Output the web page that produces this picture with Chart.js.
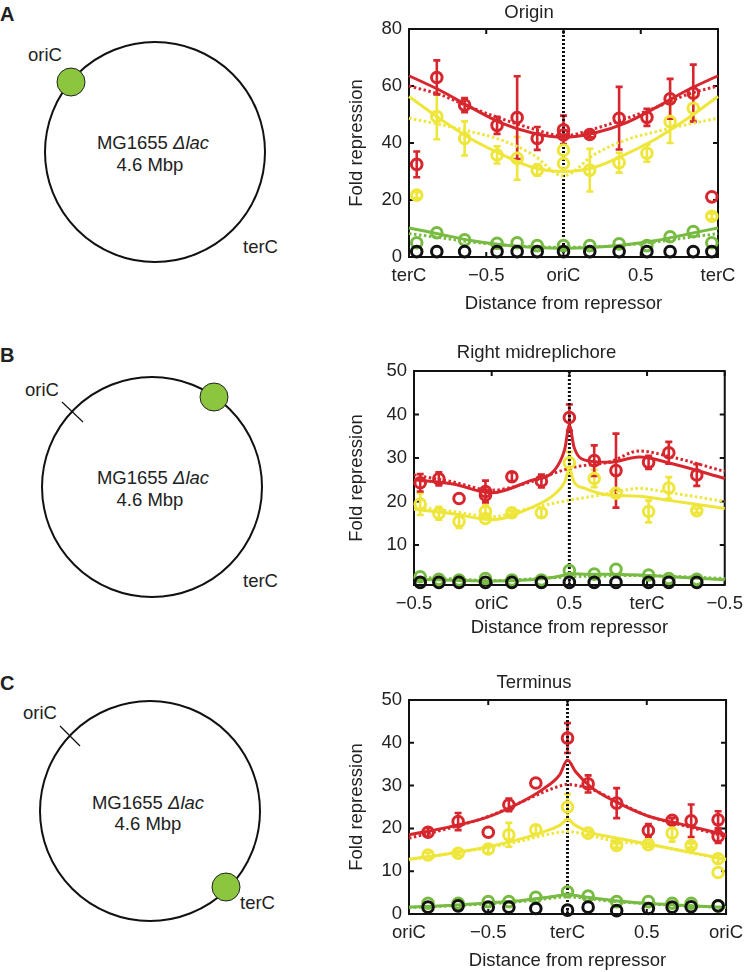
<!DOCTYPE html>
<html>
<head>
<meta charset="utf-8">
<script src="https://cdn.jsdelivr.net/npm/chart.js@4.4.1/dist/chart.umd.min.js"></script>
<style>
body { margin: 0; background: #fff; }
#page { position: relative; width: 751px; height: 972px; overflow: hidden; }
canvas { position: absolute; }
svg { position: absolute; left: 0; top: 0; }
svg text { font-family: 'Liberation Sans', Arial, sans-serif; font-size: 18.5px; fill: #222; }
</style>
</head>
<body>
<div id="page">
<svg width="340" height="972">
  <!-- A -->
  <text x="0" y="21" style="font-weight:bold;font-size:20px">A</text>
  <circle cx="155" cy="152" r="110" fill="none" stroke="#111" stroke-width="2"/>
  <circle cx="71" cy="82" r="14" fill="#8cc63f" stroke="#222" stroke-width="1"/>
  <text x="28" y="61">oriC</text>
  <text x="243" y="253">terC</text>
  <text x="153" y="149" text-anchor="middle">MG1655 <tspan font-style="italic">Δlac</tspan></text>
  <text x="150" y="171" text-anchor="middle">4.6 Mbp</text>
  <!-- B -->
  <text x="0" y="362" style="font-weight:bold;font-size:20px">B</text>
  <circle cx="152" cy="487" r="110" fill="none" stroke="#111" stroke-width="2"/>
  <line x1="62" y1="402" x2="83" y2="422" stroke="#111" stroke-width="1.2"/>
  <circle cx="214" cy="397" r="14" fill="#8cc63f" stroke="#222" stroke-width="1"/>
  <text x="25" y="396">oriC</text>
  <text x="243" y="587">terC</text>
  <text x="153" y="484" text-anchor="middle">MG1655 <tspan font-style="italic">Δlac</tspan></text>
  <text x="150" y="506" text-anchor="middle">4.6 Mbp</text>
  <!-- C -->
  <text x="0" y="690" style="font-weight:bold;font-size:20px">C</text>
  <circle cx="150" cy="811" r="110" fill="none" stroke="#111" stroke-width="2"/>
  <line x1="60" y1="726" x2="80" y2="746" stroke="#111" stroke-width="1.2"/>
  <circle cx="226" cy="887" r="14" fill="#8cc63f" stroke="#222" stroke-width="1"/>
  <text x="23" y="719">oriC</text>
  <text x="240" y="909">terC</text>
  <text x="148" y="809" text-anchor="middle">MG1655 <tspan font-style="italic">Δlac</tspan></text>
  <text x="148" y="830" text-anchor="middle">4.6 Mbp</text>
</svg>
<canvas id="chartA" width="411" height="315" style="left:340px;top:0px"></canvas>
<canvas id="chartB" width="411" height="324" style="left:340px;top:315px"></canvas>
<canvas id="chartC" width="411" height="337" style="left:340px;top:635px"></canvas>
</div>
<script>
const RED = '#d7262e';
const YELLOW = '#eee63a';
const GREEN = '#78bb43';
const BLACK = '#111111';

// ---- A: Origin ----
const xA = [-0.95, -0.82, -0.64, -0.43, -0.30, -0.17, 0.00, 0.17, 0.36, 0.54, 0.69, 0.84, 0.96];
const redA = [32.5, 63.0, 53.3, 46.2, 48.9, 41.6, 44.6, 43.0, 48.7, 49.0, 55.5, 57.5, 21.1];
const redErrA = [4.5, 6, 2.5, 3, 14.5, 4, 5, 1, 11, 3, 7, 10, 0];
const yellowA = [21.7, 49.3, 41.6, 35.8, 34.6, 30.5, 37.5, 30.5, 33.1, 36.4, 47.5, 52.2, 14.3];
const yellowErrA = [1, 8, 6, 3, 7.5, 2, 0, 7.5, 3.5, 3, 7.5, 4, 1];
const greenA = [5.0, 8.5, 6.0, 4.8, 5.0, 4.0, 4.0, 4.0, 4.6, 4.0, 7.1, 8.9, 5.0];
const blackA = [1.9, 1.9, 1.9, 1.9, 1.9, 1.9, 1.9, 1.9, 1.9, 1.9, 1.9, 1.9, 1.9];
const xExtraA = [0.00];
const redExtraA = [42.8];
const yellowExtraA = [32.8];
const fitXA = [-1, -0.8, -0.6, -0.4, -0.2, 0, 0.2, 0.4, 0.6, 0.8, 1];
const redFitA = [63.6, 58.5, 52.5, 47, 43.5, 42, 43.5, 47, 52.5, 58.5, 63.6];
const redModelA = [60, 57, 52.5, 48.5, 45, 42.5, 45, 48.5, 52.5, 57, 60];
const yellowFitA = [56.3, 48.5, 41.5, 36, 31.5, 30, 31.5, 36, 41.5, 48.5, 56.3];
const yellowModelA = [48.7, 46.5, 44, 41, 36, 28.5, 36, 41, 44, 46.5, 48.7];
const greenFitA = [10.2, 8.0, 5.8, 4.3, 3.4, 3.0, 3.4, 4.3, 5.8, 8.0, 10.2];
const greenModelA = [8.2, 6.8, 5.3, 4.2, 3.6, 3.4, 3.6, 4.2, 5.3, 6.8, 8.2];
const xTicksA = [-1, -0.5, 0, 0.5, 1];
const xLabelsA = ['terC', '\u22120.5', 'oriC', '0.5', 'terC'];
const yTicksA = [0, 20, 40, 60, 80];

// ---- B: Right midreplichore ----
const xB = [-0.46, -0.34, -0.21, -0.04, 0.13, 0.32, 0.50, 0.66, 0.80, 1.01, 1.14, 1.32];
const redB = [24.3, 25.2, 20.7, 22.3, 25.7, 24.7, 39.3, 29.4, 27.1, 29.0, 31.2, 26.1];
const redErrB = [2, 1.5, 0, 2.5, 1, 1.5, 3, 3.5, 8.5, 1.5, 2.5, 2.5];
const yellowB = [19.4, 17.3, 15.4, 17.7, 17.4, 17.4, 28.9, 25.3, 21.9, 17.7, 23.1, 17.9];
const yellowErrB = [2.5, 1.5, 1.5, 1.5, 0.5, 1, 2.5, 2, 0.5, 2.5, 2.5, 0.5];
const greenB = [2.7, 2.1, 1.95, 2.3, 1.95, 1.95, 4.1, 3.3, 4.4, 3.1, 2.3, 2.1];
const blackB = [1.4, 1.4, 1.4, 1.4, 1.4, 1.4, 1.4, 1.4, 1.4, 1.4, 1.4, 1.4];
const xExtraB = [-0.04];
const redExtraB = [21.5];
const yellowExtraB = [16.1];
const fitXB = [-0.5, -0.25, 0, 0.25, 0.4, 0.47, 0.5, 0.53, 0.6, 0.75, 0.95, 1.15, 1.5];
const redFitB = [25, 24, 22, 24.8, 27, 32, 37.5, 32.5, 29.5, 29, 30.2, 28.8, 25.3];
const redModelB = [26.1, 24.5, 22.6, 24.5, 26.5, 27.3, 27.6, 27.9, 28.3, 29, 31.6, 30.3, 26.9];
const yellowFitB = [18.2, 17.2, 15.8, 18.5, 21.5, 24.5, 27.5, 24.5, 23, 21.5, 21.2, 20.2, 18.4];
const yellowModelB = [18.8, 17.7, 16.5, 18.5, 19.6, 20.1, 20.3, 20.5, 20.9, 21.8, 23, 22, 20];
const greenFitB = [2.1, 1.9, 1.7, 2.0, 2.6, 3.1, 3.5, 3.4, 3.3, 3.3, 3.1, 2.7, 2.0];
const greenModelB = [2.6, 2.2, 1.8, 2.2, 2.5, 2.6, 2.7, 2.7, 2.8, 2.9, 3.0, 2.8, 2.3];
const xTicksB = [-0.5, 0, 0.5, 1, 1.5];
const xLabelsB = ['\u22120.5', 'oriC', '0.5', 'terC', '\u22120.5'];
const yTicksB = [10, 20, 30, 40, 50];

// ---- C: Terminus ----
const xC = [-0.88, -0.69, -0.50, -0.37, -0.20, 0.00, 0.13, 0.31, 0.51, 0.66, 0.78, 0.95];
const redC = [19.1, 21.6, 19.1, 25.5, 30.6, 41.1, 30.4, 25.9, 19.5, 21.9, 21.8, 22.0];
const redErrC = [1, 2, 0, 1.5, 0, 3.5, 2, 3.5, 1.5, 0.5, 3.8, 2];
const yellowC = [13.8, 14.2, 15.2, 18.5, 19.7, 25.0, 18.9, 16.0, 16.2, 18.9, 16.0, 12.9];
const yellowErrC = [0.5, 0.5, 1, 2.8, 1, 3, 0.5, 0.5, 0.5, 2, 0.5, 1];
const greenC = [2.5, 2.5, 2.9, 2.9, 3.9, 5.2, 4.2, 2.9, 2.9, 2.5, 2.5, 1.9];
const blackC = [1.6, 1.9, 1.6, 1.6, 1.3, 0.9, 1.6, 0.8, 1.3, 1.6, 1.7, 1.9];
const xExtraC = [0.95];
const redExtraC = [18.1];
const yellowExtraC = [9.7];
const fitXC = [-1, -0.75, -0.5, -0.3, -0.15, -0.05, 0, 0.05, 0.15, 0.3, 0.5, 0.75, 1];
const redFitC = [18.5, 20.3, 22.7, 26.0, 29.3, 32.5, 36, 33.3, 29.6, 26.3, 23.0, 20.7, 18.5];
const redModelC = [17.7, 20, 22.8, 26, 28.5, 29.9, 30.3, 30.1, 29.2, 26.5, 23, 20.5, 18.1];
const yellowFitC = [12.8, 14.1, 15.7, 17.5, 19.2, 20.7, 22, 20.7, 19, 17.8, 16.4, 14.6, 12.8];
const yellowModelC = [12.7, 14.1, 15.5, 17.0, 18.4, 19.1, 19.3, 19.1, 18.3, 17.0, 16.3, 14.5, 12.7];
const greenFitC = [1.6, 2.0, 2.6, 3.1, 3.8, 4.3, 4.7, 4.3, 3.8, 3.1, 2.5, 2.0, 1.5];
const greenModelC = [1.5, 1.9, 2.4, 2.9, 3.5, 3.9, 4.0, 3.9, 3.5, 2.9, 2.4, 1.9, 1.5];
const xTicksC = [-1, -0.5, 0, 0.5, 1];
const xLabelsC = ['oriC', '\u22120.5', 'terC', '0.5', 'oriC'];
const yTicksC = [0, 10, 20, 30, 40, 50];

const FONT = { family: "'Liberation Sans', Arial, sans-serif", size: 18.5 };

// box with inward tick marks, like the original plots
const frame = {
  id: 'frame',
  beforeDatasetsDraw(chart) {
    const { ctx, chartArea: a, scales: { x, y } } = chart;
    ctx.save();
    ctx.strokeStyle = BLACK;
    ctx.lineWidth = 2;
    ctx.strokeRect(a.left, a.top, a.right - a.left, a.bottom - a.top);
    ctx.beginPath();
    x.ticks.forEach(t => {
      const px = x.getPixelForValue(t.value);
      ctx.moveTo(px, a.bottom); ctx.lineTo(px, a.bottom - 5);
      ctx.moveTo(px, a.top); ctx.lineTo(px, a.top + 5);
    });
    y.ticks.forEach(t => {
      const py = y.getPixelForValue(t.value);
      ctx.moveTo(a.left, py); ctx.lineTo(a.left + 5, py);
      ctx.moveTo(a.right, py); ctx.lineTo(a.right - 5, py);
    });
    ctx.stroke();
    ctx.restore();
  }
};

const errorBars = {
  id: 'errorBars',
  beforeDatasetsDraw(chart) {
    const { ctx, scales: { y } } = chart;
    chart.data.datasets.forEach((ds, i) => {
      if (!ds.errors) return;
      const meta = chart.getDatasetMeta(i);
      ctx.save();
      ctx.strokeStyle = ds.borderColor;
      ctx.lineWidth = 2.6;
      meta.data.forEach((pt, j) => {
        const e = ds.errors[j];
        if (!e) return;
        const v = ds.data[j].y;
        const top = y.getPixelForValue(v + e);
        const bot = y.getPixelForValue(v - e);
        ctx.beginPath();
        ctx.moveTo(pt.x, top); ctx.lineTo(pt.x, bot);
        ctx.moveTo(pt.x - 3.5, top); ctx.lineTo(pt.x + 3.5, top);
        ctx.moveTo(pt.x - 3.5, bot); ctx.lineTo(pt.x + 3.5, bot);
        ctx.stroke();
      });
      ctx.restore();
    });
  }
};

const pts = (xs, ys) => xs.map((x, i) => ({ x, y: ys[i] }));

function pointSet(xs, ys, errs, color) {
  return {
    data: pts(xs, ys), errors: errs, borderColor: color, backgroundColor: 'rgba(0,0,0,0)',
    pointRadius: 5.3, pointBorderWidth: 3, showLine: false, clip: false
  };
}

function curve(xs, ys, color, dotted) {
  return {
    data: pts(xs, ys), borderColor: color, borderWidth: 3, borderDash: dotted ? [2.5, 2.5] : [],
    pointRadius: 0, showLine: true, cubicInterpolationMode: 'monotone', clip: false
  };
}

function panel(id, p) {
  const datasets = [
    pointSet(p.x, p.black, null, BLACK),
    pointSet(p.x, p.green, null, GREEN),
    pointSet(p.x.concat(p.xExtra), p.yellow.concat(p.yellowExtra), p.yellowErr.concat([0]), YELLOW),
    pointSet(p.x.concat(p.xExtra), p.red.concat(p.redExtra), p.redErr.concat(p.redExtraErr || [0]), RED),
    curve(p.fitX, p.redFit, RED, false),
    curve(p.fitX, p.redModel, RED, true),
    curve(p.fitX, p.greenFit, GREEN, false),
    curve(p.fitX, p.greenModel, GREEN, true),
    curve(p.fitX, p.yellowFit, YELLOW, false),
    curve(p.fitX, p.yellowModel, YELLOW, true),
    {
      data: [{ x: p.site, y: p.yMin }, { x: p.site, y: p.yMax }],
      borderColor: BLACK, borderWidth: 3, borderDash: [2, 2], pointRadius: 0, showLine: true
    }
  ];
  return new Chart(document.getElementById(id), {
    type: 'scatter',
    data: { datasets },
    options: {
      responsive: false,
      animation: false,
      events: [],
      layout: { padding: { left: 0, right: p.padRight, top: 0, bottom: 0 } },
      plugins: {
        legend: { display: false },
        tooltip: { enabled: false },
        title: {
          display: true, text: p.title, color: '#222',
          font: { ...FONT, weight: 'normal' }, padding: p.titlePad
        }
      },
      scales: {
        x: {
          type: 'linear', min: p.xTicks[0], max: p.xTicks[p.xTicks.length - 1],
          grid: { display: false, drawTicks: false }, border: { display: false },
          afterBuildTicks: s => { s.ticks = p.xTicks.map(v => ({ value: v })); },
          afterFit: s => { s.height = p.xHeight; },
          ticks: { font: FONT, color: '#222', padding: 8, maxRotation: 0, callback: (v, i) => p.xLabels[i] },
          title: { display: true, text: 'Distance from repressor', font: FONT, color: '#222', padding: 0 }
        },
        y: {
          type: 'linear', min: p.yMin, max: p.yMax,
          grid: { display: false, drawTicks: false }, border: { display: false },
          afterBuildTicks: s => { s.ticks = p.yTicks.map(v => ({ value: v })); },
          afterFit: s => { s.width = p.yWidth; },
          ticks: { font: FONT, color: '#222', padding: 7 },
          title: { display: true, text: 'Fold repression', font: FONT, color: '#222', padding: { top: 6, bottom: 0 } }
        }
      }
    },
    plugins: [frame, errorBars]
  });
}

panel('chartA', {
  title: 'Origin', site: 0, yMin: 0, yMax: 80,
  x: xA, red: redA, redErr: redErrA, yellow: yellowA, yellowErr: yellowErrA, green: greenA, black: blackA,
  xExtra: xExtraA, redExtra: redExtraA, yellowExtra: yellowExtraA,
  fitX: fitXA, redFit: redFitA, redModel: redModelA, yellowFit: yellowFitA, yellowModel: yellowModelA,
  greenFit: greenFitA, greenModel: greenModelA,
  xTicks: xTicksA, xLabels: xLabelsA, yTicks: yTicksA,
  padRight: 33, yWidth: 69, xHeight: 58, titlePad: { top: 2, bottom: 4.8 }
});

panel('chartB', {
  title: 'Right midreplichore', site: 0.5, yMin: 0.8, yMax: 50,
  x: xB, red: redB, redErr: redErrB, yellow: yellowB, yellowErr: yellowErrB, green: greenB, black: blackB,
  xExtra: xExtraB, redExtra: redExtraB, yellowExtra: yellowExtraB,
  fitX: fitXB, redFit: redFitB, redModel: redModelB, yellowFit: yellowFitB, yellowModel: yellowModelB,
  greenFit: greenFitB, greenModel: greenModelB,
  xTicks: xTicksB, xLabels: xLabelsB, yTicks: yTicksB,
  padRight: 18, yWidth: 74, xHeight: 54, titlePad: { top: 27, bottom: 6.8 }
});

panel('chartC', {
  title: 'Terminus', site: 0, yMin: 0, yMax: 50,
  x: xC, red: redC, redErr: redErrC, yellow: yellowC, yellowErr: yellowErrC, green: greenC, black: blackC,
  xExtra: xExtraC, redExtra: redExtraC, redExtraErr: [1.5], yellowExtra: yellowExtraC,
  fitX: fitXC, redFit: redFitC, redModel: redModelC, yellowFit: yellowFitC, yellowModel: yellowModelC,
  greenFit: greenFitC, greenModel: greenModelC,
  xTicks: xTicksC, xLabels: xLabelsC, yTicks: yTicksC,
  padRight: 23, yWidth: 69, xHeight: 58, titlePad: { top: 37, bottom: 5.8 }
});
</script>
</body>
</html>
